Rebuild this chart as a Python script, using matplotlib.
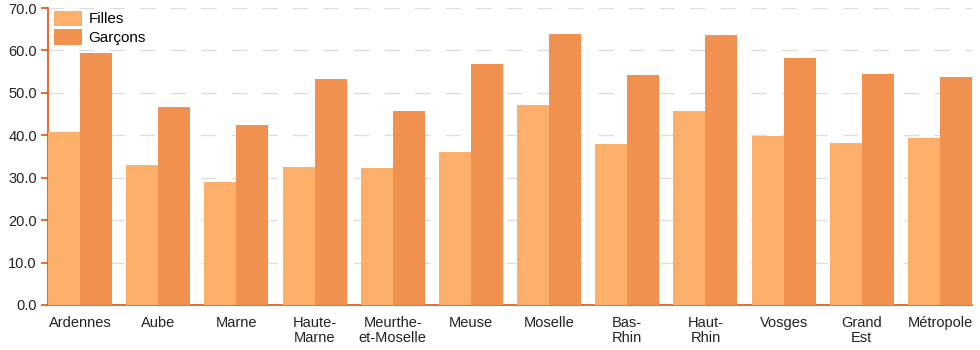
import numpy as np
import matplotlib.pyplot as plt
from matplotlib.ticker import FormatStrFormatter

plt.rcParams['font.family'] = ['Liberation Sans', 'DejaVu Sans']

# Données
regions = ['Ardennes', 'Aube', 'Marne', 'Haute-\nMarne', 'Meurthe-\net-Moselle', 'Meuse',
           'Moselle', 'Bas-\nRhin', 'Haut-\nRhin', 'Vosges', 'Grand\nEst', 'Métropole']
filles = [40.8, 33.0, 29.0, 32.5, 32.3, 36.1, 47.1, 37.9, 45.7, 39.8, 38.2, 39.4]
garcons = [59.4, 46.7, 42.4, 53.3, 45.7, 56.8, 63.9, 54.2, 63.6, 58.2, 54.4, 53.7]

col_f = '#fcae6b'
col_g = '#f09150'
col_axe = '#e0530f'

fig = plt.figure(figsize=(9.8, 3.5), dpi=100)
ax = fig.add_axes([48 / 980, 45 / 350, 924 / 980, 297 / 350])

x = np.arange(len(regions))
w = 0.41
ax.bar(x - w / 2, filles, width=w, color=col_f, label='Filles', zorder=3)
ax.bar(x + w / 2, garcons, width=w, color=col_g, label='Garçons', zorder=3)

ax.set_xlim(-w, len(regions) - 1 + w)
ax.set_ylim(0, 70)
ax.set_yticks(np.arange(0, 71, 10))
ax.yaxis.set_major_formatter(FormatStrFormatter('%.1f'))
ax.set_xticks(x)
ax.set_xticklabels(regions, fontsize=10.5, linespacing=1.1)

# grille pointillée
for yv in range(10, 71, 10):
    ax.axhline(yv, color='#dddddd', linewidth=1, dashes=(11, 11), zorder=1)

for s in ['top', 'right']:
    ax.spines[s].set_visible(False)
for s in ['left', 'bottom']:
    ax.spines[s].set_color(col_axe)
    ax.spines[s].set_linewidth(1.2)
ax.tick_params(axis='y', colors=col_axe, labelcolor='#222222', length=5, width=1.2, labelsize=10.5, pad=3)
ax.tick_params(axis='x', length=0, labelcolor='#222222', pad=8)

ax.legend(loc='upper left', frameon=False, fontsize=11, handlelength=1.8, handleheight=1.15,
          handletextpad=0.45, labelspacing=0.2, borderaxespad=0, bbox_to_anchor=(0.0, 1.012))

fig.savefig('out.png', dpi=100)
